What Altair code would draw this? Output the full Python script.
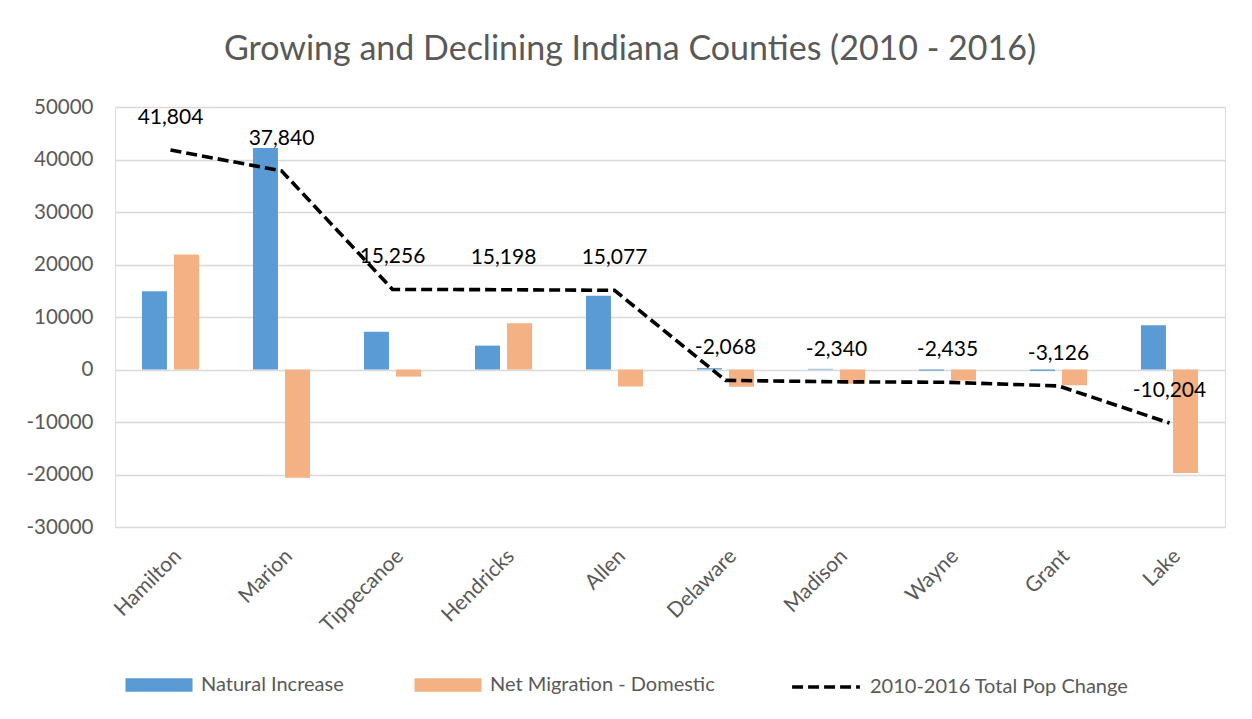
import altair as alt
import pandas as pd

counties = ["Hamilton", "Marion", "Tippecanoe", "Hendricks", "Allen",
            "Delaware", "Madison", "Wayne", "Grant", "Lake"]
natural_increase = [14900, 42200, 7200, 4550, 14050, 250, 120, -200, -250, 8450]
net_migration = [21900, -20600, -1350, 8800, -3250, -3300, -2700, -2100, -3000, -19700]
total_change = [41804, 37840, 15256, 15198, 15077, -2068, -2340, -2435, -3126, -10204]
series_names = ["Natural Increase", "Net Migration - Domestic"]
line_name = "2010-2016 Total Pop Change"

bars_df = pd.DataFrame(
    [{"county": c, "series": series_names[0], "value": v} for c, v in zip(counties, natural_increase)]
    + [{"county": c, "series": series_names[1], "value": v} for c, v in zip(counties, net_migration)]
)
line_df = pd.DataFrame({"county": counties, "total": total_change, "series": line_name,
                        "label": [f"{v:,}" for v in total_change]})

FONT = "Lato"
GRAY = "#595959"

x_scale = alt.Scale(domain=counties, paddingInner=0.486, paddingOuter=0.243)
y_scale = alt.Scale(domain=[-30000, 50000])

x_axis = alt.Axis(labelAngle=-45, labelFontSize=21, labelColor=GRAY, labelFont=FONT,
                  domain=False, ticks=False, labelPadding=18, title=None, grid=False)
y_axis = alt.Axis(values=list(range(-30000, 50001, 10000)),
                  labelExpr="datum.value < 0 ? '-' + abs(datum.value) : '' + datum.value",
                  labelFontSize=20.5, labelColor=GRAY, labelFont=FONT, domain=False, ticks=False,
                  labelPadding=22, title=None, gridColor="#D9D9D9", gridWidth=1.3)

bars = alt.Chart(bars_df).mark_bar().encode(
    x=alt.X("county:N", scale=x_scale, axis=x_axis, sort=counties),
    xOffset=alt.XOffset("series:N", scale=alt.Scale(domain=series_names, paddingInner=0.22)),
    y=alt.Y("value:Q", scale=y_scale, axis=y_axis),
    color=alt.Color("series:N",
                    scale=alt.Scale(domain=series_names, range=["#5B9BD5", "#F4B183"]),
                    legend=alt.Legend(orient="none", legendX=10, legendY=544, direction="horizontal",
                                      title=None, symbolType="M-1,-0.2L1,-0.2L1,0.2L-1,0.2Z",
                                      symbolSize=4500, symbolStrokeWidth=0, labelFontSize=20,
                                      labelColor=GRAY, labelFont=FONT, labelOffset=8,
                                      labelLimit=0, columnPadding=70)),
)

line = alt.Chart(line_df).mark_line(strokeDash=[11, 5], strokeWidth=3.6).encode(
    x=alt.X("county:N", scale=x_scale, sort=counties, bandPosition=0.5),
    y=alt.Y("total:Q", scale=y_scale),
    stroke=alt.Stroke("series:N", scale=alt.Scale(domain=[line_name], range=["black"]),
                      legend=alt.Legend(orient="none", legendX=675, legendY=544, title=None,
                                        symbolType="stroke", symbolSize=4600,
                                        symbolStrokeWidth=3.6, symbolDash=[11, 5],
                                        labelFontSize=20, labelColor=GRAY, labelFont=FONT,
                                        labelOffset=8, labelLimit=0)),
)

labels = alt.Chart(line_df).mark_text(dy=-32, fontSize=21, font=FONT, color="black").encode(
    x=alt.X("county:N", scale=x_scale, sort=counties, bandPosition=0.5),
    y=alt.Y("total:Q", scale=y_scale),
    text="label:N",
)

chart = alt.layer(bars, line, labels).resolve_scale(color="independent", stroke="independent").properties(
    width=1110, height=420,
    title=alt.TitleParams("Growing and Declining Indiana Counties (2010 - 2016)", fontSize=34,
                          font=FONT, color=GRAY, fontWeight="normal", anchor="middle",
                          dx=-40, offset=30),
    autosize=alt.AutoSizeParams(type="none"),
    padding={"left": 115, "top": 107, "right": 27, "bottom": 192},
).configure_view(strokeWidth=0, stroke="transparent").configure(background="white")

chart.save("out.html", embed_options={"renderer": "svg", "actions": False})
